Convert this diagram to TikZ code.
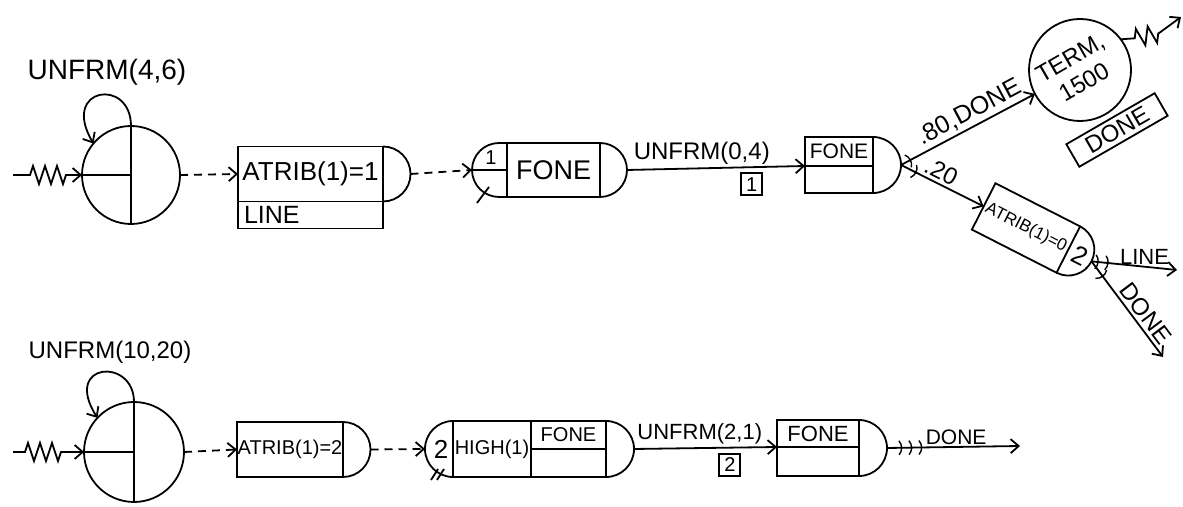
\documentclass[tikz,border=0pt]{standalone}
\usepackage{fontspec}
\setmainfont{Liberation Sans}
\usetikzlibrary{arrows.meta,positioning,calc,decorations.pathmorphing,decorations.markings}

\newcommand{\hsz}[1]{\fontsize{#1}{#1}\selectfont}

\begin{document}
\begin{tikzpicture}[x=0.5pt, y=0.5pt, line width=0.9pt,
  >={Straight Barb[length=4pt,width=7pt]},
  every node/.style={inner sep=0pt, outer sep=0pt},
  crecircle/.style={circle, draw, minimum size=#1},
  slambox/.style={rectangle, draw, minimum width=#1},
  numbox/.style={draw, minimum width=10.5pt, minimum height=11pt, font=\hsz{10}},
  dashact/.style={->, dash pattern=on 4pt off 3pt},
  zigdeco/.style={decoration={zigzag, segment length=6pt, amplitude=4.5pt}},
  brtick/.style={postaction={decorate, decoration={markings,
      mark=at position #1 with {\draw[line width=0.7pt,-] (-1pt,-3.5pt) to[bend right=40] (-1pt,3.5pt);}}}},
]
\useasboundingbox (0,0) rectangle (1183,507);

% --- Row 1: calls arriving on the line ---
\node[crecircle=49pt] (cre1) at (131,332) {};
\draw (cre1.north) -- (cre1.south);
\draw (cre1.west) -- (cre1.center);
\draw[->] (cre1.north) .. controls (131,430) and (60,420) .. (cre1.140);
\node[font=\hsz{14}] (lbl1) at (107,435) {UNFRM(4,6)};
\coordinate (src1) at (13,332);
\draw[->] (src1) -- ++(17,0) decorate[zigdeco]{-- ++(36,0)} -- (cre1.west);

% Assign node
\node[slambox=72.5pt, minimum height=27.5pt, font=\hsz{13}] (asg1) at (310.5,333) {ATRIB(1)=1};
\node[slambox=72.5pt, minimum height=13.5pt, text width=66.5pt, inner xsep=3pt, align=left,
  font=\hsz{12.5}, below=0pt of asg1] (asg1b) {LINE};
\draw (asg1.north east) arc[start angle=90, end angle=-90, radius=13.75pt];
\coordinate (asg1o) at ([xshift=13.75pt]asg1.east);
\draw[dashact] (cre1.east) -- (asg1.west);

% Queue for the phone
\node[slambox=46.5pt, minimum height=27pt, font=\hsz{13.5}] (que1) at (553.5,337) {FONE};
\draw (que1.north west) -- ++(-8,0) arc[start angle=90, end angle=270, radius=13.5pt] -- (que1.south west);
\coordinate (que1in) at ([xshift=-17.5pt]que1.west);
\draw (que1in) -- (que1.west);
\draw (que1.north east) arc[start angle=90, end angle=-90, radius=13.5pt];
\coordinate (que1o) at ([xshift=13.5pt]que1.east);
\node[font=\hsz{10}] (ifl1) at (491,349) {1};
\draw (477,304) -- (489,320);
\draw[dashact] (asg1o) -- (que1in);

% Free node
\node[slambox=34pt, minimum height=14.5pt, font=\hsz{10.5}] (sel1) at (839,355.5) {FONE};
\node[slambox=34pt, minimum height=13.5pt, below=0pt of sel1] (sel1b) {};
\draw (sel1.north east) arc[start angle=90, end angle=-90, radius=14pt];
\coordinate (sel1o) at ($(sel1.north east)+(28,-28)$);
\draw[->] (que1o) -- (sel1.south west)
  node[pos=0.42, above=2pt, font=\hsz{12}] (act1lbl) {UNFRM(0,4)}
  node[pos=0.7, below=3pt, numbox] (act1num) {1};

% Terminate branch
\node[crecircle=51pt] (term1) at (1080,437) {};
\node[rotate=30, align=center, font=\fontsize{12}{14}\selectfont] (term1t) at (1077,437) {TERM,\\1500};
\node[draw, rotate=30, minimum width=51pt, minimum height=13pt, font=\hsz{12}] (term1d) at (1117,377) {DONE};
\draw[->, brtick=5pt] (sel1o) -- (term1)
  node[pos=0.56, sloped, above=2pt, font=\hsz{12.5}] (br1lbl) {.80,DONE};
\coordinate (snk1) at (1181,490);
\draw[->] (term1.37) -- ++(14,1) decorate[zigdeco]{-- ++(24,5)} -- (snk1);

% Second assign branch
\node[slambox=47.5pt, minimum height=26pt, rotate=-27, font=\hsz{8.5}] (asg2) at (1026,279) {ATRIB(1)=0};
\draw (asg2.north east) arc[start angle=63, end angle=-117, radius=13pt];
\coordinate (asg2o) at ([shift={(-27:13pt)}]asg2.east);
\node[rotate=-27, font=\hsz{13}] (asg2m) at ([shift={(-27:6.5pt)}]asg2.east) {2};
\draw[->, brtick=8pt] (sel1o) -- (asg2.west)
  node[pos=0.42, sloped, above=2pt, font=\hsz{12}] (br2lbl) {.20};
\coordinate (snk2) at (1177,237);
\coordinate (snk3) at (1163,150);
\draw[->, brtick=3pt, brtick=8pt] (asg2o) -- (snk2)
  node[pos=0.62, above=1pt, font=\hsz{11}] (out1lbl) {LINE};
\draw[->, brtick=9pt] (asg2o) -- (snk3)
  node[pos=0.62, sloped, above=2pt, font=\hsz{12}] (out2lbl) {DONE};

% --- Row 2: high priority calls ---
\node[crecircle=50pt] (cre2) at (134,55) {};
\draw (cre2.north) -- (cre2.south);
\draw (cre2.west) -- (cre2.center);
\draw[->] (cre2.north) .. controls (134,150) and (62,145) .. (cre2.137);
\node[font=\hsz{12}] (lbl2) at (110,155) {UNFRM(10,20)};
\coordinate (src2) at (13,55);
\draw[->] (src2) -- ++(12,0) decorate[zigdeco]{-- ++(36,0)} -- (cre2.west);

% Assign node
\node[slambox=53pt, minimum height=27.5pt, font=\hsz{10}] (asg3) at (290,57.5) {ATRIB(1)=2};
\draw (asg3.north east) arc[start angle=90, end angle=-90, radius=13.75pt];
\coordinate (asg3o) at ([xshift=13.75pt]asg3.east);
\draw[dashact] (cre2.east) -- (asg3.west);

% Queue ranked on HIGH(1)
\node[slambox=39pt, minimum height=28pt, font=\hsz{10}] (que2) at (492,58) {HIGH(1)};
\node[slambox=37.5pt, minimum height=14pt, anchor=north west, font=\hsz{10}] (que2f) at (que2.north east) {FONE};
\node[slambox=37.5pt, minimum height=14pt, below=0pt of que2f] (que2g) {};
\draw (que2.north west) arc[start angle=90, end angle=270, radius=14pt];
\coordinate (que2in) at ([xshift=-14pt]que2.west);
\node[font=\hsz{13}] (ifl2) at (441,58) {2};
\draw (431,27) -- (438,38);
\draw (437,27) -- (444,38);
\draw (que2f.north east) arc[start angle=90, end angle=-90, radius=14pt];
\coordinate (que2o) at ([xshift=14pt]que2f.south east);
\draw[dashact] (asg3o) -- (que2in);

% Free node
\node[slambox=41pt, minimum height=13.5pt, font=\hsz{11}] (sel2) at (818,73.5) {FONE};
\node[slambox=41pt, minimum height=14.5pt, below=0pt of sel2] (sel2b) {};
\draw (sel2.north east) arc[start angle=90, end angle=-90, radius=14pt];
\coordinate (sel2o) at ($(sel2.north east)+(28,-28)$);
\draw[->] (que2o) -- (sel2.south west)
  node[pos=0.46, above=2pt, font=\hsz{11}] (act2lbl) {UNFRM(2,1)}
  node[pos=0.67, below=3pt, numbox] (act2num) {2};
\coordinate (snk4) at (1020,61);
\draw[->, brtick=7pt, brtick=12pt, brtick=17pt] (sel2o) -- (snk4)
  node[pos=0.52, above=1pt, font=\hsz{10.5}] (out3lbl) {DONE};

\end{tikzpicture}
\end{document}
